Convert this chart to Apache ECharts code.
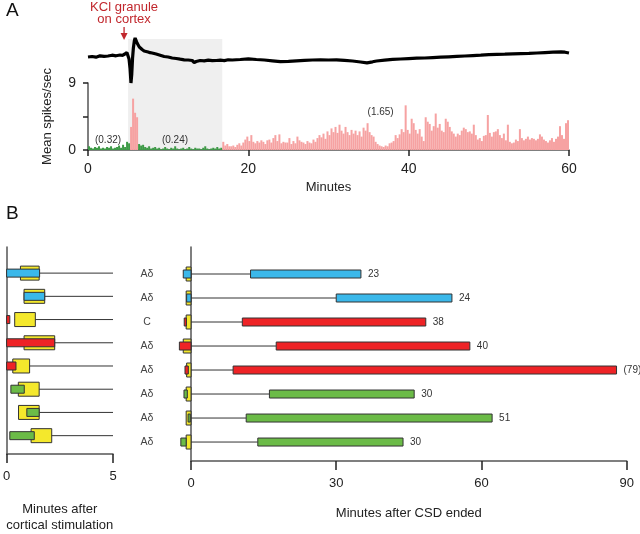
<!DOCTYPE html>
<html>
<head>
<meta charset="UTF-8">
<title>KCl granule / CSD responses</title>
<style>
  html, body { margin: 0; padding: 0; background: #fff; }
  #chart { width: 640px; height: 534px; }
</style>
</head>
<body>
<div id="chart"></div>
<script src="https://cdn.jsdelivr.net/npm/echarts@6/dist/echarts.min.js"></script>
<script>
// ---- panel A : firing rate histogram (0.25 min bins) ----
var binWidth = 0.25;
var rate = [
  // 0 - 5 min
  0.5, 0.3, 0.2, 0.4, 0.3, 0.5, 0.2, 0.3, 0.2, 0.4, 0.3, 0.5, 0.2, 0.3, 0.4, 0.6, 0.3, 0.7, 0.4, 1.1,
  // 5 - 6.25 min
  0.9, 3.1, 6.9, 5.0, 4.4,
  // 6.25 - 16.75 min
  0.8, 0.6, 0.7, 0.4, 0.3, 0.5, 0.2, 0.3, 0.4, 0.2,
  0.3, 0.1, 0.2, 0.4, 0.2, 0.1, 0.3, 0.2, 0.5, 0.2,
  0.1, 0.2, 0.3, 0.1, 0.2, 0.4, 0.2, 0.1, 0.3, 0.2,
  0.2, 0.1, 0.3, 0.5, 0.2, 0.1, 0.2, 0.3, 0.2, 0.4,
  0.2, 0.3,
  // 16.75 - 60 min
  1.1, 0.6, 0.8, 0.5, 0.5, 0.6, 0.4, 0.7, 0.9, 0.6, 1.0, 1.4,
  1.8, 1.2, 2.0, 1.1, 0.9, 1.2, 1.0, 1.3, 1.1, 0.8, 1.3, 1.4,
  1.0, 1.6, 2.0, 1.2, 2.1, 0.9, 1.1, 1.0, 1.0, 1.6, 0.8, 1.2,
  0.9, 1.8, 1.3, 1.1, 1.0, 0.8, 1.2, 1.0, 0.9, 1.4, 1.1, 1.6,
  2.0, 1.7, 2.2, 1.5, 2.5, 2.0, 2.9, 2.4, 3.1, 2.3, 3.4, 2.6,
  2.2, 3.1, 2.4, 2.0, 2.7, 2.2, 2.6, 2.0, 2.5, 1.8, 3.0, 2.6,
  3.6, 2.4, 2.0, 1.8, 1.1, 0.8, 0.6, 0.5, 0.4, 0.6, 0.5, 0.9,
  1.0, 1.2, 2.0, 1.6, 2.1, 2.8, 2.4, 6.0, 2.7, 2.2, 4.2, 3.6,
  2.7, 2.2, 2.8, 1.8, 1.2, 4.4, 3.8, 3.5, 2.6, 3.2, 4.9, 3.0,
  3.5, 2.6, 2.4, 4.2, 3.8, 3.1, 2.5, 2.2, 1.8, 2.2, 2.0, 2.6,
  3.0, 2.8, 2.4, 2.5, 2.2, 3.4, 2.0, 1.4, 1.6, 1.2, 1.9, 2.0,
  4.7, 2.3, 1.8, 2.4, 2.5, 2.8, 2.0, 1.6, 2.2, 1.3, 3.4, 1.1,
  0.9, 1.0, 1.4, 1.2, 2.8, 1.6, 1.3, 1.5, 1.8, 1.4, 1.6, 1.5,
  1.3, 1.5, 2.1, 1.8, 1.4, 1.2, 1.0, 1.3, 1.6, 1.1, 1.5, 1.8,
  3.2, 2.0, 1.5, 3.6, 4.0
];
var pinkPeriods = [[5.25, 6.25], [16.75, 60]];
var shadeSpan = [5.0, 16.75];
var shadeTop = 14.9;
var meanText = ['(0.32)', '(0.24)', '(1.65)'];
var meanAt = [[2.5, 1.35], [10.85, 1.35], [36.5, 5.1]];

// ---- panel A : cortical DC trace (arbitrary units) ----
var traceTime = [0, 0.5, 1, 1.5, 2, 2.5, 3, 3.5, 4, 4.3, 4.6, 4.85, 5, 5.12, 5.24, 5.36, 5.46, 5.56, 5.66, 5.78,
  5.88, 6, 6.12, 6.25, 6.4, 6.55, 6.75, 7, 7.25, 7.5, 7.75, 8, 8.5, 9, 9.5, 10, 10.5, 11, 11.5, 12,
  12.5, 13, 13.25, 13.5, 14, 14.5, 15, 15.5, 16, 16.5, 17, 17.5, 18, 19, 20, 21, 22, 23, 24, 25,
  26, 27, 28, 29, 30, 31, 32, 33, 34, 34.8, 35.5, 36, 37, 38, 39, 40, 41, 42, 43, 44,
  45, 46, 47, 48, 49, 50, 51, 52, 53, 54, 55, 56, 57, 58, 59, 59.5, 60];
var traceValue = [33, 33.5, 32.8, 34.2, 33.6, 34, 34.8, 34.2, 35, 34.6, 36, 37.5, 36.5, 31, 22, 7, 16, 32, 42, 49,
  52, 50.5, 47, 45.5, 43, 42, 40.5, 39, 38.5, 38, 37.3, 37, 36, 34.8, 33.5, 33, 32, 31.5, 30.8, 30.2,
  30, 29.5, 27.5, 28.5, 29.5, 29.2, 29.8, 29.3, 29.5, 29.8, 29.4, 30.2, 30, 30.5, 31.2, 30.5, 30, 29.2, 28.4, 28.6,
  29.2, 29.6, 30, 30.2, 30, 30.2, 29.6, 29, 28, 27.2, 28.2, 29, 29.8, 30.6, 31, 31.4, 31.8, 32, 32.4, 32.8,
  33.2, 33.6, 34, 34.4, 34.8, 35.4, 35.6, 35.8, 36.2, 36.4, 36.6, 37, 37.4, 37.8, 38.2, 37.8, 37];
var kclTime = 4.5;

// ---- panel B : individual neurons ----
var fiberType = ['A\u03b4', 'A\u03b4', 'C', 'A\u03b4', 'A\u03b4', 'A\u03b4', 'A\u03b4', 'A\u03b4'];
var group = ['blue', 'blue', 'red', 'red', 'red', 'green', 'green', 'green'];
// minutes after cortical stimulation
var yellowStartL = [0.65, 0.82, 0.38, 0.82, 0.29, 0.55, 0.56, 1.15];
var yellowEndL = [1.53, 1.79, 1.35, 2.26, 1.08, 1.53, 1.53, 2.12];
var colorStartL = [0, 0.82, 0, 0, 0, 0.2, 0.95, 0.15];
var colorEndL = [1.55, 1.79, 0.15, 2.26, 0.44, 0.83, 1.53, 1.3];
// minutes after CSD ended
var yellowStartR = [-1.0, -1.0, -1.0, -1.6, -0.9, -1.0, -1.0, -1.0];
var yellowEndR = [0, 0, 0, 0, 0, 0, 0, 0];
var colorStartR = [-1.6, -0.9, -1.4, -2.4, -1.24, -1.45, -0.6, -2.1];
var colorEndR = [0, 0, -0.95, 0, -0.55, -0.76, -0.14, -1.0];
var barStart = [12.3, 30.0, 10.6, 17.6, 8.7, 16.2, 11.4, 13.8];
var barEnd = [35.1, 53.9, 48.5, 57.6, 87.9, 46.1, 62.2, 43.8];
var durationLabel = ['23', '24', '38', '40', '(79)', '30', '51', '30'];

var palette = { blue: '#3bb8ea', red: '#ee2326', green: '#6bbb47', yellow: '#f4e82c' };
var font = 'Liberation Sans, Arial, sans-serif';
var axisColor = '#555';

var chart = echarts.init(document.getElementById('chart'));

function isPink(t) {
  for (var k = 0; k < pinkPeriods.length; k++) {
    if (t >= pinkPeriods[k][0] - 1e-9 && t < pinkPeriods[k][1]) return true;
  }
  return false;
}

function boxRect(api, x0, x1, row, half, fill) {
  var a = api.coord([x0, row]);
  var b = api.coord([x1, row]);
  return {
    type: 'rect',
    shape: { x: a[0], y: a[1] - half, width: b[0] - a[0], height: half * 2 },
    style: { fill: fill, stroke: '#333', lineWidth: 1 }
  };
}

function hLine(api, x0, x1, row) {
  var a = api.coord([x0, row]);
  var b = api.coord([x1, row]);
  return {
    type: 'line',
    shape: { x1: a[0], y1: a[1], x2: b[0], y2: b[1] },
    style: { stroke: '#333', lineWidth: 1 }
  };
}

function txt(x, y, s, size, color, align) {
  return {
    type: 'text', x: x, y: y,
    style: { text: s, fill: color, font: size + 'px ' + font, align: align || 'center', verticalAlign: 'middle',
      textAlign: align || 'center', textVerticalAlign: 'middle' }
  };
}

var leftData = fiberType.map(function (f, i) {
  return [i + 1, yellowStartL[i], yellowEndL[i], colorStartL[i], colorEndL[i], i];
});
var rightData = fiberType.map(function (f, i) {
  return [i + 1, yellowStartR[i], yellowEndR[i], colorStartR[i], colorEndR[i], barStart[i], barEnd[i], i];
});

var option = {
  animation: false,
  textStyle: { fontFamily: font },
  grid: [
    { left: 88, top: 30, width: 481, height: 60 },
    { left: 88, top: 83, width: 481, height: 67 },
    { left: 3, top: 247, width: 110, height: 214 },
    { left: 191, top: 247, width: 435.7, height: 214 }
  ],
  xAxis: [
    { gridIndex: 0, type: 'value', min: 0, max: 60, show: false },
    {
      gridIndex: 1, type: 'value', min: 0, max: 60, interval: 20,
      axisLine: { onZero: false, lineStyle: { color: axisColor, width: 1.5 } },
      axisTick: { length: 6, lineStyle: { color: '#222', width: 1.5 } },
      axisLabel: { fontSize: 14, color: '#222', margin: 12 },
      splitLine: { show: false },
      name: 'Minutes', nameLocation: 'middle', nameGap: 31,
      nameTextStyle: { fontSize: 13, color: '#222' }
    },
    {
      gridIndex: 2, type: 'value', min: 0, max: 5, interval: 5,
      axisLine: { onZero: false, lineStyle: { color: axisColor, width: 1.5 } },
      axisTick: { length: 9, lineStyle: { color: '#222', width: 1.5 } },
      axisLabel: { fontSize: 13, color: '#222', margin: 16 },
      splitLine: { show: false },
      name: 'Minutes after\ncortical stimulation', nameLocation: 'middle', nameGap: 47,
      nameTextStyle: { fontSize: 13, color: '#222', lineHeight: 16 }
    },
    {
      gridIndex: 3, type: 'value', min: 0, max: 90, interval: 30,
      axisLine: { onZero: false, lineStyle: { color: axisColor, width: 1.5 } },
      axisTick: { length: 9, lineStyle: { color: '#222', width: 1.5 } },
      axisLabel: { fontSize: 13, color: '#222', margin: 16 },
      splitLine: { show: false },
      name: 'Minutes after CSD ended', nameLocation: 'middle', nameGap: 46,
      nameTextStyle: { fontSize: 13, color: '#222' }
    }
  ],
  yAxis: [
    { gridIndex: 0, type: 'value', min: 0, max: 60, show: false },
    {
      gridIndex: 1, type: 'value', min: 0, max: 9, interval: 4.5,
      axisLine: { show: true, onZero: false, lineStyle: { color: axisColor, width: 1.5 } },
      axisTick: { show: true, length: 5, lineStyle: { color: '#222', width: 1.5 } },
      axisLabel: { fontSize: 14, color: '#222', margin: 12,
        formatter: function (v) { return (v === 0 || v === 9) ? String(v) : ''; } },
      splitLine: { show: false },
      name: 'Mean spikes/sec', nameLocation: 'middle', nameGap: 34, nameRotate: 90,
      nameTextStyle: { fontSize: 13, color: '#222' }
    },
    {
      gridIndex: 2, type: 'value', inverse: true, min: -0.125, max: 8.79,
      axisLine: { show: true, onZero: false, lineStyle: { color: axisColor, width: 1.5 } },
      axisTick: { show: false }, axisLabel: { show: false }, splitLine: { show: false }
    },
    {
      gridIndex: 3, type: 'value', inverse: true, min: -0.125, max: 8.79,
      axisLine: { show: true, onZero: false, lineStyle: { color: axisColor, width: 1.5 } },
      axisTick: { show: false }, axisLabel: { show: false }, splitLine: { show: false }
    }
  ],
  graphic: [
    { type: 'text', left: 6, top: 1, style: { text: 'A', font: '19px ' + font, fill: '#111' } },
    { type: 'text', left: 6, top: 204, style: { text: 'B', font: '19px ' + font, fill: '#111' } }
  ],
  series: [
    {
      // grey band: period of the cortical event
      type: 'custom', xAxisIndex: 1, yAxisIndex: 1, z: 0, clip: false, silent: true,
      data: [shadeSpan],
      renderItem: function (params, api) {
        var a = api.coord([api.value(0), shadeTop]);
        var b = api.coord([api.value(1), 0]);
        return { type: 'rect', shape: { x: a[0], y: a[1], width: b[0] - a[0], height: b[1] - a[1] },
          style: { fill: '#efefef' } };
      }
    },
    {
      type: 'custom', xAxisIndex: 1, yAxisIndex: 1, z: 1, silent: true,
      data: rate.map(function (v, i) { return [i * binWidth, v]; }),
      renderItem: function (params, api) {
        var t = api.value(0);
        var a = api.coord([t, api.value(1)]);
        var b = api.coord([t + binWidth, 0]);
        return { type: 'rect', shape: { x: a[0], y: a[1], width: b[0] - a[0], height: b[1] - a[1] },
          style: { fill: isPink(t) ? '#f6a2a2' : '#3d9a46' } };
      }
    },
    {
      type: 'custom', xAxisIndex: 1, yAxisIndex: 1, z: 3, clip: false, silent: true,
      data: meanAt.map(function (p, i) { return [p[0], p[1], i]; }),
      renderItem: function (params, api) {
        var p = api.coord([api.value(0), api.value(1)]);
        return txt(p[0], p[1], meanText[api.value(2)], 10, '#333');
      }
    },
    {
      type: 'line', xAxisIndex: 0, yAxisIndex: 0, z: 4, showSymbol: false, silent: true,
      data: traceTime.map(function (t, i) { return [t, traceValue[i]]; }),
      lineStyle: { color: '#000', width: 3.2 }
    },
    {
      // KCl granule arrow
      type: 'custom', xAxisIndex: 0, yAxisIndex: 0, z: 5, clip: false, silent: true,
      data: [[kclTime]],
      renderItem: function (params, api) {
        var top = api.coord([api.value(0), 63]);
        var tip = api.coord([api.value(0), 50]);
        var l1 = api.coord([api.value(0), 83]);
        var l2 = api.coord([api.value(0), 70.5]);
        var red = '#c1272d';
        return { type: 'group', children: [
          { type: 'line', shape: { x1: top[0], y1: top[1], x2: tip[0], y2: tip[1] - 6 }, style: { stroke: red, lineWidth: 1.3 } },
          { type: 'polygon', shape: { points: [[tip[0] - 3.5, tip[1] - 7], [tip[0] + 3.5, tip[1] - 7], [tip[0], tip[1]]] }, style: { fill: red } },
          txt(l1[0], l1[1], 'KCl granule', 13, red),
          txt(l2[0], l2[1], 'on cortex', 13, red)
        ] };
      }
    },
    {
      type: 'custom', xAxisIndex: 2, yAxisIndex: 2, z: 3, clip: false, silent: true,
      data: leftData,
      renderItem: function (params, api) {
        var row = api.value(0);
        var i = api.value(5);
        var kids = [hLine(api, api.value(1), 5, row), boxRect(api, api.value(1), api.value(2), row, 7, palette.yellow)];
        if (api.value(4) > api.value(3)) kids.push(boxRect(api, api.value(3), api.value(4), row, 4, palette[group[i]]));
        return { type: 'group', children: kids };
      }
    },
    {
      type: 'custom', xAxisIndex: 3, yAxisIndex: 3, z: 3, clip: false, silent: true,
      data: rightData,
      renderItem: function (params, api) {
        var row = api.value(0);
        var i = api.value(7);
        var c = palette[group[i]];
        var end = api.coord([api.value(6), row]);
        var lab = api.coord([-9.1, row]);
        var kids = [
          hLine(api, 0, api.value(5), row),
          boxRect(api, api.value(1), api.value(2), row, 7, palette.yellow),
          boxRect(api, api.value(3), api.value(4), row, 4, c),
          boxRect(api, api.value(5), api.value(6), row, 4, c),
          txt(end[0] + 7, end[1], durationLabel[i], 10, '#333', 'left'),
          txt(lab[0], lab[1], fiberType[i], 10.5, '#444')
        ];
        return { type: 'group', children: kids };
      }
    }
  ]
};

chart.setOption(option);
</script>
</body>
</html>
